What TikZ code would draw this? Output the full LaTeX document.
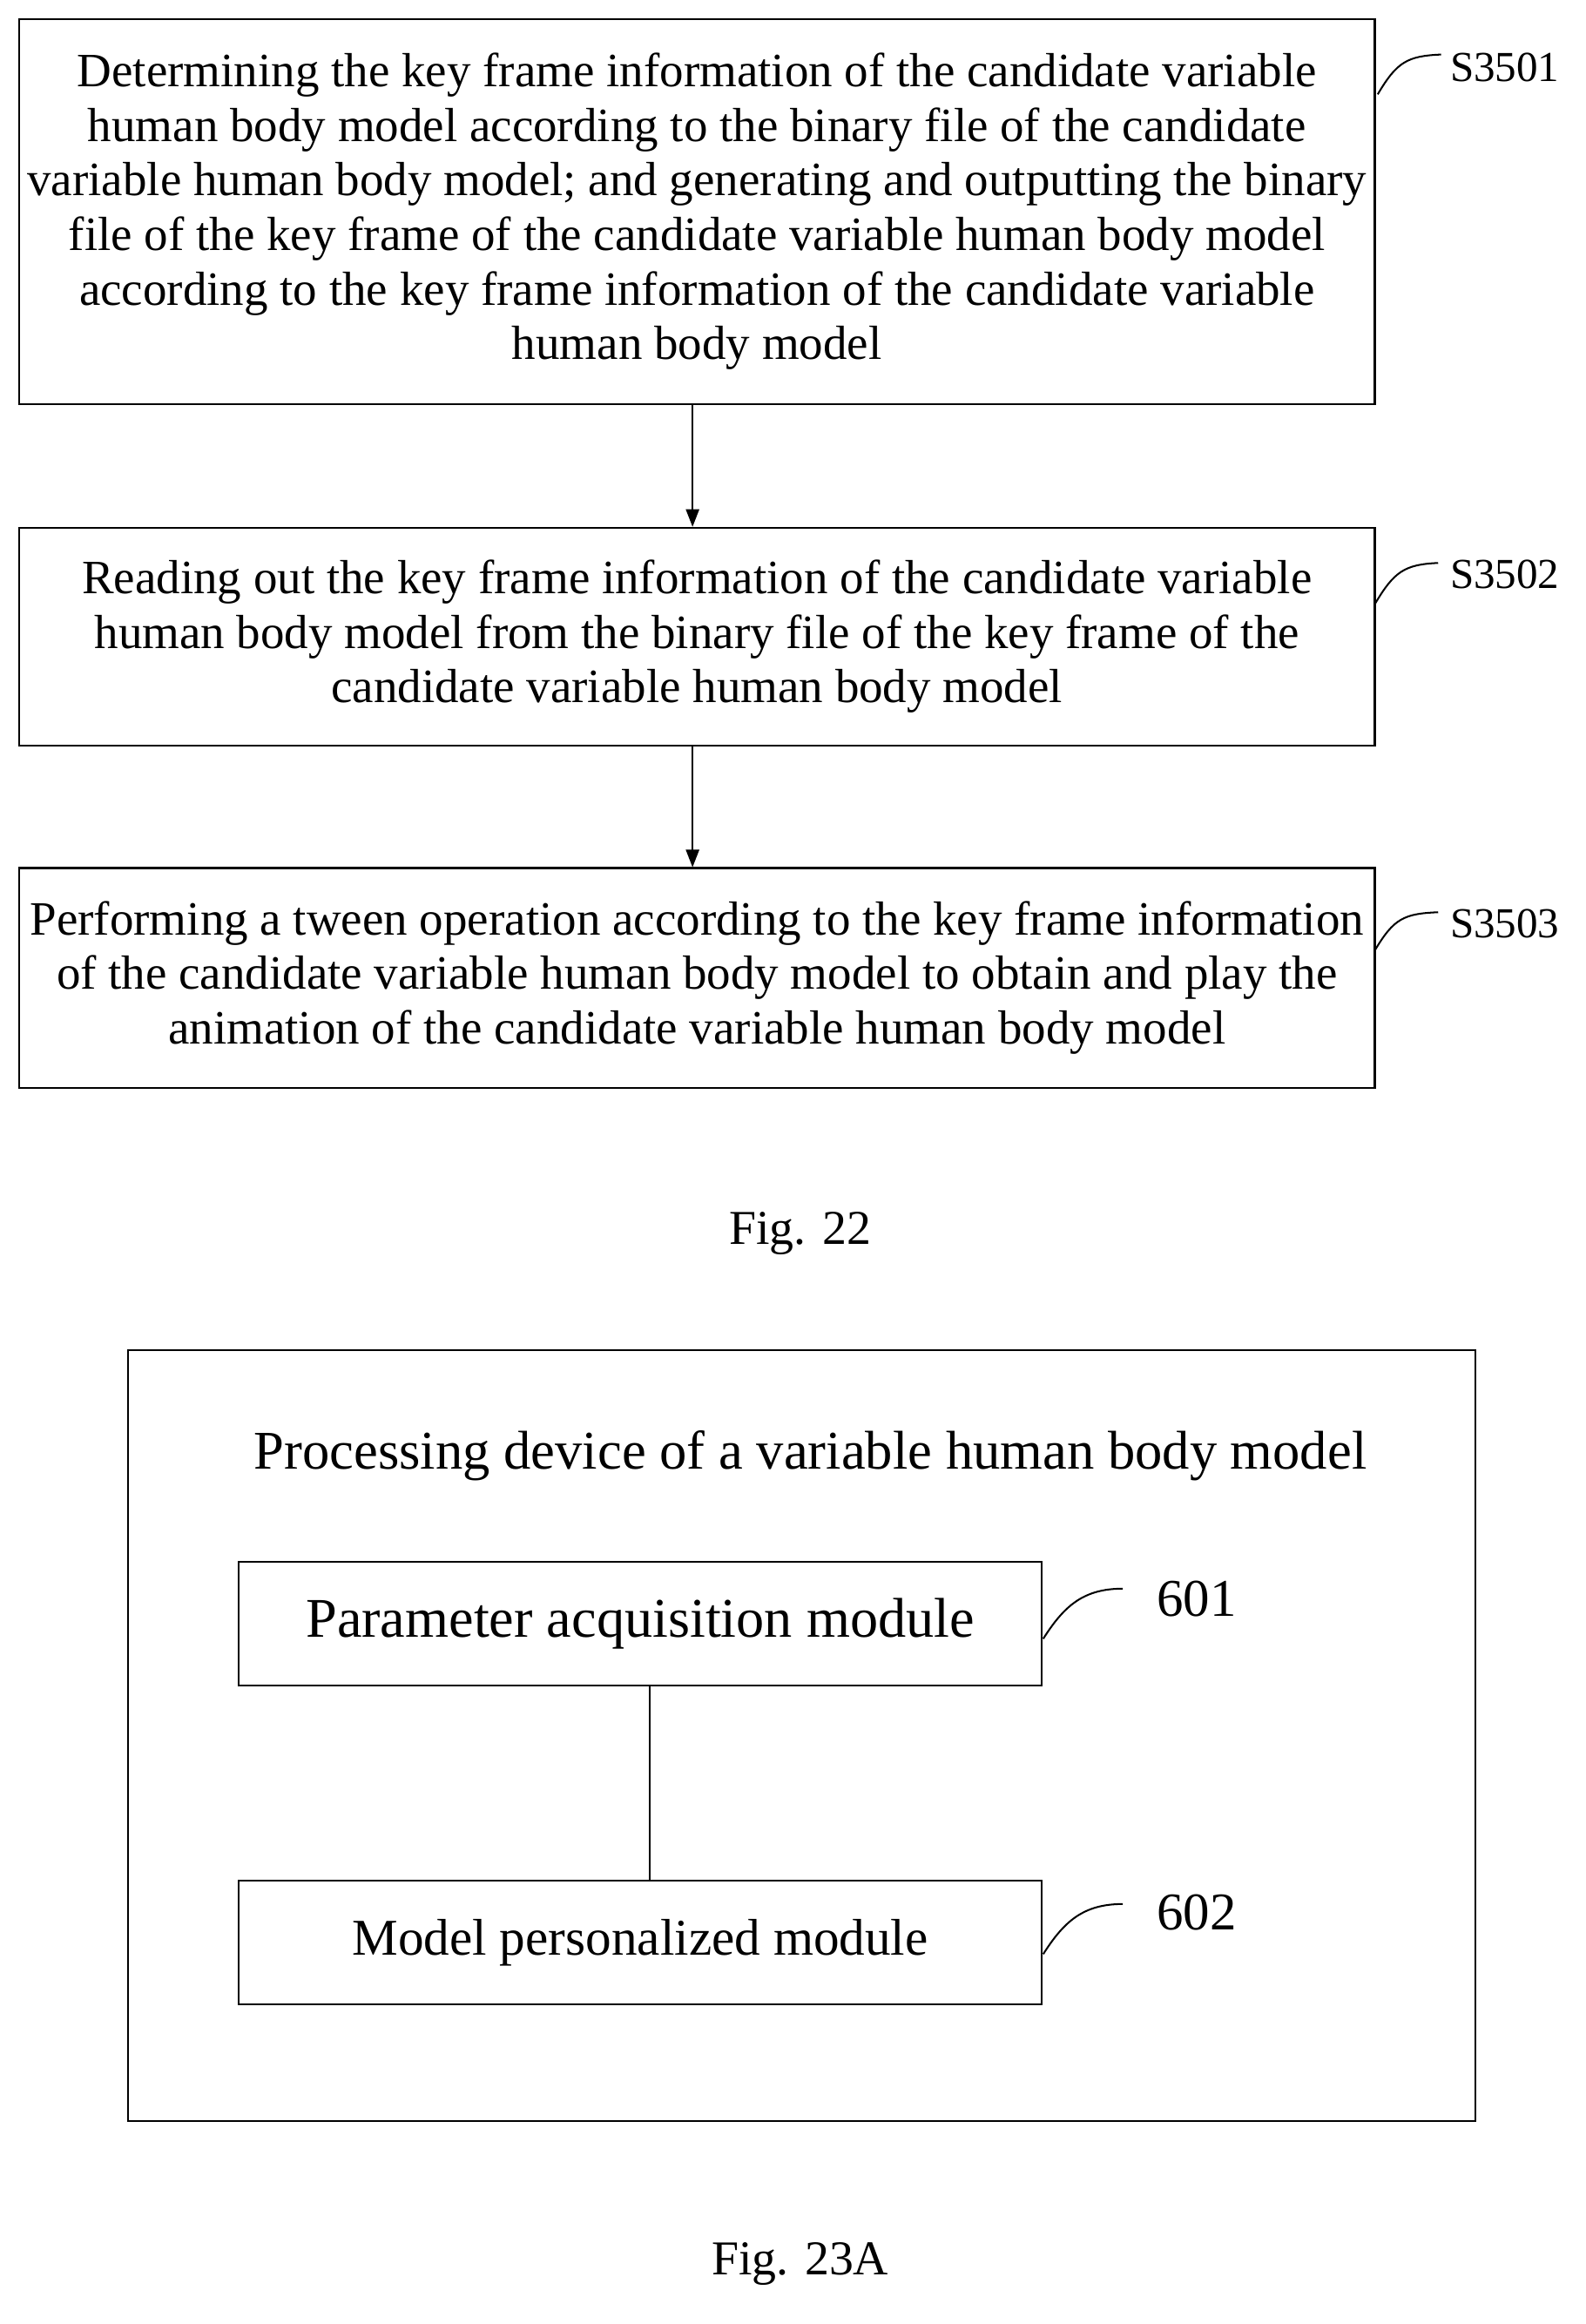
\documentclass[tikz,border=0pt]{standalone}
\usepackage{fontspec}
\setmainfont{Liberation Serif}
\usetikzlibrary{arrows.meta}
\begin{document}
\begin{tikzpicture}[x=1pt,y=-1pt,
  box/.style={draw,line width=1.2pt,inner sep=0pt},
  txt/.style={align=center,font=\fontsize{32.5}{37}\selectfont},
  lbl/.style={font=\fontsize{29}{34}\selectfont,anchor=west,inner sep=0pt},
  arr/.style={-{Triangle[length=12pt,width=9pt]},line width=1.2pt},
  wave/.style={line width=1.2pt}]
\useasboundingbox (0,0) rectangle (1076,1577);
\node[box,minimum width=920pt,minimum height=261pt] (b1) at (473,143.5) {};
\node[txt] (t1) at (b1.center) {Determining the key frame information of the candidate variable\\human body model according to the binary file of the candidate\\variable human body model; and generating and outputting the binary\\file of the key frame of the candidate variable human body model\\according to the key frame information of the candidate variable\\human body model};
\node[box,minimum width=920pt,minimum height=148pt] (b2) at (473,432) {};
\node[txt] (t2) at (b2.center) {Reading out the key frame information of the candidate variable\\human body model from the binary file of the key frame of the\\candidate variable human body model};
\node[box,minimum width=920pt,minimum height=149pt] (b3) at (473,663.5) {};
\node[txt] (t3) at (b3.center) {Performing a tween operation according to the key frame information\\of the candidate variable human body model to obtain and play the\\animation of the candidate variable human body model};
\coordinate (a1) at (470,274); \coordinate (a2) at (470,357.5);
\coordinate (a3) at (470,506); \coordinate (a4) at (470,588.5);
\draw[arr] (a1) -- (a2);
\draw[arr] (a3) -- (a4);
\node[lbl] (l1) at (984,46) {S3501};
\node[lbl] (l2) at (984,390) {S3502};
\node[lbl] (l3) at (984,627) {S3503};
\coordinate (w1) at (935,64); \draw[wave] (w1) .. controls (948,42) and (955,38) .. (978,37);
\coordinate (w2) at (933,410); \draw[wave] (w2) .. controls (946,388) and (953,383) .. (976,382);
\coordinate (w3) at (933,645); \draw[wave] (w3) .. controls (946,623) and (953,620) .. (976,619);
\node[font=\fontsize{33}{38}\selectfont] (f1) at (543,837) {Fig. 22};
\node[box,minimum width=914pt,minimum height=523pt] (outer) at (544,1177.5) {};
\node[font=\fontsize{37}{42}\selectfont] (title) at (550,988) {Processing device of a variable human body model};
\node[box,minimum width=545pt,minimum height=84pt,font=\fontsize{38}{42}\selectfont] (m1) at (434.5,1102) {Parameter acquisition module};
\node[box,minimum width=545pt,minimum height=84pt,font=\fontsize{35}{40}\selectfont] (m2) at (434.5,1318) {Model personalized module};
\draw[line width=1.2pt] (m1.south -| 441,0) -- (m2.north -| 441,0);
\node[lbl,font=\fontsize{36}{40}\selectfont] (n1) at (785,1085) {601};
\node[lbl,font=\fontsize{36}{40}\selectfont] (n2) at (785,1298) {602};
\coordinate (v1) at (708,1112); \draw[wave] (v1) .. controls (722,1090) and (735,1078) .. (762,1078);
\coordinate (v2) at (708,1326); \draw[wave] (v2) .. controls (722,1304) and (735,1292) .. (762,1292);
\node[font=\fontsize{33}{38}\selectfont] (f2) at (543,1536) {Fig. 23A};
\end{tikzpicture}
\end{document}
